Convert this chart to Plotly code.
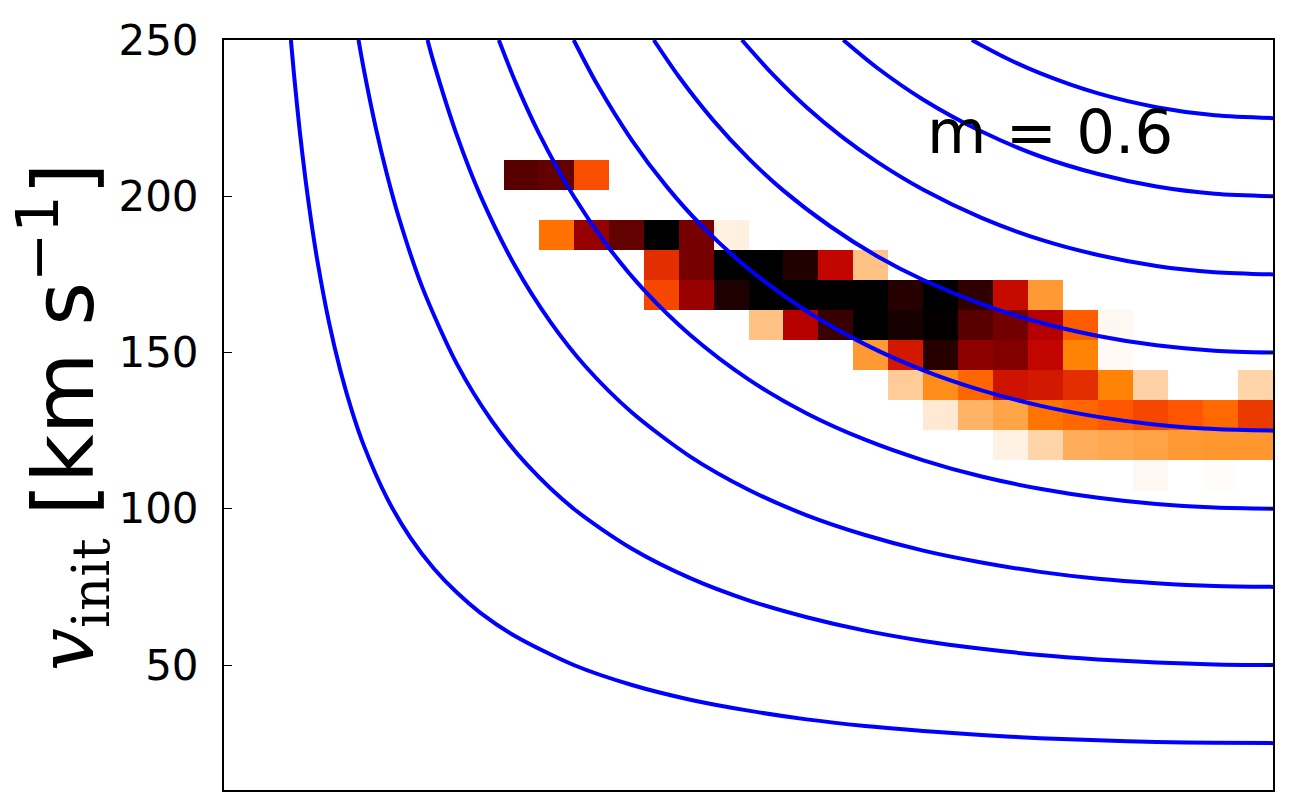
import numpy as np
import plotly.graph_objects as go

# ---------------- data ----------------
# heat-map bins: 30 angle bins (3 deg) x 25 velocity bins (9.6 km/s from 10 to 250)
x_edges_min, x_edges_max, n_x = 0.0, 90.0, 30
y_edges_min, y_edges_max, n_y = 10.0, 250.0, 25

cell_col = [8, 9, 10,
            9, 10, 11, 12, 13, 14,
            12, 13, 14, 15, 16, 17, 18,
            12, 13, 14, 15, 16, 17, 18, 19, 20, 21, 22, 23,
            15, 16, 17, 18, 19, 20, 21, 22, 23, 24, 25,
            18, 19, 20, 21, 22, 23, 24, 25,
            19, 20, 21, 22, 23, 24, 25, 26, 29,
            20, 21, 22, 23, 24, 25, 26, 27, 28, 29,
            22, 23, 24, 25, 26, 27, 28, 29,
            26, 28]
cell_row = [20, 20, 20,
            18, 18, 18, 18, 18, 18,
            17, 17, 17, 17, 17, 17, 17,
            16, 16, 16, 16, 16, 16, 16, 16, 16, 16, 16, 16,
            15, 15, 15, 15, 15, 15, 15, 15, 15, 15, 15,
            14, 14, 14, 14, 14, 14, 14, 14,
            13, 13, 13, 13, 13, 13, 13, 13, 13,
            12, 12, 12, 12, 12, 12, 12, 12, 12, 12,
            11, 11, 11, 11, 11, 11, 11, 11,
            10, 10]
cell_val = [0.77, 0.74, 0.35,
            0.28, 0.61, 0.74, 1.00, 0.69, 0.03,
            0.41, 0.69, 1.00, 1.00, 0.91, 0.49, 0.12,
            0.36, 0.60, 0.92, 1.00, 1.00, 1.00, 1.00, 0.90, 1.00, 0.88, 0.48, 0.20,
            0.12, 0.52, 0.85, 1.00, 0.94, 0.99, 0.77, 0.70, 0.53, 0.32, 0.013,
            0.20, 0.45, 0.90, 0.63, 0.66, 0.49, 0.245, 0.01,
            0.10, 0.225, 0.30, 0.46, 0.45, 0.41, 0.245, 0.088, 0.085,
            0.044, 0.15, 0.18, 0.275, 0.30, 0.33, 0.36, 0.333, 0.294, 0.386,
            0.027, 0.085, 0.162, 0.172, 0.181, 0.20, 0.205, 0.205,
            0.013, 0.006]

# constant-v_inf curves (angle in deg, v_init in km/s)
ang_25 = [5.74, 6.0, 6.5, 7.0, 7.5, 8.0, 9.0, 10.0, 11.0, 12.0, 14.0, 16.0, 18.0, 20.0, 22.0,
          25.0, 30.0, 35.0, 40.0, 45.0, 50.0, 55.0, 60.0, 65.0, 70.0, 75.0, 80.0, 85.0, 90.0]
vel_25 = [250, 239.2, 220.8, 205.1, 191.5, 179.6, 159.8, 144.0, 131.0, 120.2, 103.3, 90.7, 80.9, 73.1, 66.7,
          59.2, 50.0, 43.6, 38.9, 35.4, 32.6, 30.5, 28.9, 27.6, 26.6, 25.9, 25.4, 25.1, 25.0]
ang_50 = [11.54, 12, 13, 14, 15, 17, 20, 23, 26, 30, 35, 40, 45, 50, 55, 60, 65, 70, 75, 80, 85, 90]
vel_50 = [250, 240.5, 222.3, 206.7, 193.2, 171.0, 146.2, 128.0, 114.1, 100.0, 87.2, 77.8, 70.7, 65.3,
          61.0, 57.7, 55.2, 53.2, 51.8, 50.8, 50.2, 50.0]
ang_75 = [17.46, 18, 20, 22, 25, 28, 31, 35, 40, 45, 50, 55, 60, 65, 70, 75, 80, 85, 90]
vel_75 = [250, 242.7, 219.3, 200.2, 177.5, 159.8, 145.6, 130.8, 116.7, 106.1, 97.9, 91.6, 86.6, 82.8,
          79.8, 77.6, 76.2, 75.3, 75.0]
ang_100 = [23.58, 25, 27, 30, 33, 36, 40, 45, 50, 55, 60, 65, 70, 75, 80, 85, 90]
vel_100 = [250, 236.6, 220.3, 200.0, 183.6, 170.1, 155.6, 141.4, 130.5, 122.1, 115.5, 110.3, 106.4,
           103.5, 101.5, 100.4, 100.0]
ang_125 = [30, 32, 35, 38, 41, 45, 50, 55, 60, 65, 70, 75, 80, 85, 90]
vel_125 = [250, 235.9, 217.9, 203.0, 190.5, 176.8, 163.2, 152.6, 144.3, 137.9, 133.0, 129.4, 126.9, 125.5, 125.0]
ang_150 = [36.87, 39, 42, 45, 48, 52, 56, 60, 65, 70, 75, 80, 85, 90]
vel_150 = [250, 238.4, 224.2, 212.1, 201.8, 190.4, 180.9, 173.2, 165.5, 159.6, 155.3, 152.3, 150.6, 150.0]
ang_175 = [44.43, 47, 50, 53, 56, 60, 65, 70, 75, 80, 85, 90]
vel_175 = [250, 239.3, 228.4, 219.1, 211.1, 202.1, 193.1, 186.2, 181.2, 177.7, 175.7, 175.0]
ang_200 = [53.13, 56, 60, 65, 70, 75, 80, 85, 90]
vel_200 = [250, 241.2, 230.9, 220.7, 212.8, 207.1, 203.1, 200.8, 200.0]
ang_225 = [64.16, 67, 70, 75, 80, 85, 90]
vel_225 = [250, 244.4, 239.4, 232.9, 228.5, 225.9, 225.0]

y_tick_vals = [50, 100, 150, 200, 250]
y_tick_text = ["50", "100", "150", "200", "250"]
label_text = "m = 0.6"
ylabel_symbol = "<i>v</i><sub>init</sub>"
ylabel_unit = "[km s<sup>\u22121</sup>]"

# ---------------- figure ----------------
dx = (x_edges_max - x_edges_min) / n_x
dy = (y_edges_max - y_edges_min) / n_y
x_centers = x_edges_min + dx * (np.arange(n_x) + 0.5)
y_centers = y_edges_min + dy * (np.arange(n_y) + 0.5)

z = np.full((n_y, n_x), np.nan)
for c, r, v in zip(cell_col, cell_row, cell_val):
    z[r, c] = v
z_list = [[None if np.isnan(v) else float(v) for v in row] for row in z]

gist_heat_r = [[0.0, "rgb(255,255,255)"], [0.25, "rgb(255,128,0)"], [1/3, "rgb(255,85,0)"],
               [0.5, "rgb(191,0,0)"], [1.0, "rgb(0,0,0)"]]

fig = go.Figure()
fig.add_trace(go.Heatmap(x=x_centers, y=y_centers, z=z_list, colorscale=gist_heat_r,
                         zmin=0, zmax=1, showscale=False, hoverongaps=False))

for a, v in [(ang_25, vel_25), (ang_50, vel_50), (ang_75, vel_75), (ang_100, vel_100),
             (ang_125, vel_125), (ang_150, vel_150), (ang_175, vel_175), (ang_200, vel_200),
             (ang_225, vel_225)]:
    fig.add_trace(go.Scatter(x=a, y=v, mode="lines",
                             line=dict(color="rgb(0,0,255)", width=4, shape="spline", smoothing=0.8),
                             showlegend=False, hoverinfo="skip"))

fig.add_annotation(x=70.9, y=220.6, xref="x", yref="y", text=label_text, showarrow=False,
                   font=dict(family="DejaVu Sans", size=61, color="black"),
                   xanchor="center", yanchor="middle")

# y-axis label: serif symbol part + sans unit part
fig.add_annotation(x=-0.1454, y=0.3373, xref="paper", yref="paper", text=ylabel_symbol,
                   showarrow=False, textangle=-90, borderpad=0,
                   font=dict(family="DejaVu Serif, Liberation Serif, serif", size=76, color="black"),
                   xanchor="center", yanchor="top")
fig.add_annotation(x=-0.159, y=0.364, xref="paper", yref="paper", text=ylabel_unit,
                   showarrow=False, textangle=-90, borderpad=0,
                   font=dict(family="DejaVu Sans", size=84, color="black"),
                   xanchor="center", yanchor="bottom")

fig.update_xaxes(range=[x_edges_min, x_edges_max], showticklabels=False, ticks="",
                 showline=True, linecolor="black", linewidth=2, mirror=True,
                 showgrid=False, zeroline=False)
fig.update_yaxes(range=[y_edges_min, y_edges_max], tickvals=y_tick_vals, ticktext=y_tick_text,
                 ticks="inside", ticklen=8, tickwidth=1, tickcolor="black",
                 showline=True, linecolor="black", linewidth=2, mirror="ticks",
                 showgrid=False, zeroline=False, ticklabelstandoff=15,
                 tickfont=dict(family="DejaVu Sans", size=42, color="black"))

fig.update_layout(width=1289, height=806, margin=dict(l=224, r=16, t=40, b=16),
                  paper_bgcolor="white", plot_bgcolor="white", showlegend=False)

fig.write_html("out.html")
